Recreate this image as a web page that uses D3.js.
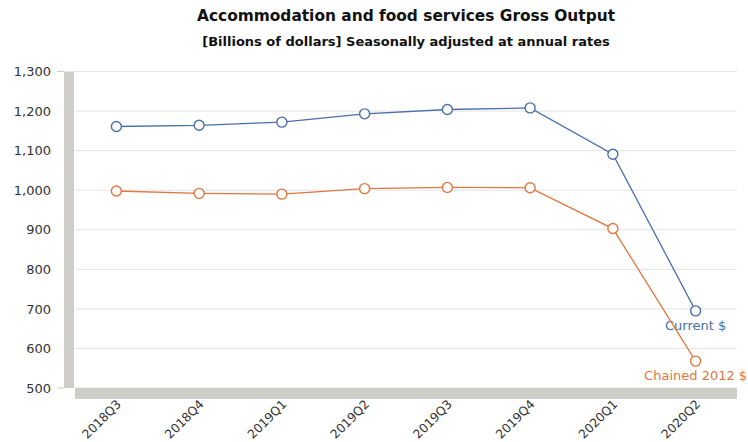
<!DOCTYPE html>
<html>
<head>
<meta charset="utf-8">
<script src="https://cdn.jsdelivr.net/npm/d3@7"></script>
<style>
  html, body { margin: 0; padding: 0; background: #fff; }
  svg { display: block; font-family: "DejaVu Sans", Verdana, sans-serif; }
</style>
</head>
<body>
<svg id="chart" width="748" height="442"></svg>
<script>
// Quarterly gross output, billions of dollars (SAAR)
const quarters = ["2018Q3", "2018Q4", "2019Q1", "2019Q2", "2019Q3", "2019Q4", "2020Q1", "2020Q2"];
const currentDollars = [1161, 1164, 1172, 1193, 1204, 1208, 1091, 695];
const chained2012Dollars = [998, 992, 990, 1004, 1007, 1006, 903, 568];
const yTicks = [500, 600, 700, 800, 900, 1000, 1100, 1200, 1300];

const seriesList = [
  { name: "Current $", values: currentDollars, color: "#4a6fa9" },
  { name: "Chained 2012 $", values: chained2012Dollars, color: "#e2763f" }
];

const svg = d3.select("#chart");
const plot = { left: 75, right: 737, top: 71.5, bottom: 388 };

const x = d3.scalePoint().domain(quarters).range([plot.left, plot.right]).padding(0.5);
const y = d3.scaleLinear().domain([500, 1300]).range([plot.bottom, plot.top]);

// Titles
svg.append("text")
  .attr("x", 406).attr("y", 21)
  .attr("text-anchor", "middle")
  .attr("font-size", 15.4).attr("font-weight", "bold").attr("fill", "#111")
  .text("Accommodation and food services Gross Output");
svg.append("text")
  .attr("x", 406).attr("y", 46)
  .attr("text-anchor", "middle")
  .attr("font-size", 13).attr("font-weight", "bold").attr("fill", "#111")
  .text("[Billions of dollars] Seasonally adjusted at annual rates");

// Horizontal gridlines
svg.append("g")
  .selectAll("line")
  .data(yTicks)
  .join("line")
  .attr("x1", plot.left).attr("x2", plot.right)
  .attr("y1", d => y(d)).attr("y2", d => y(d))
  .attr("stroke", "#e4e4e4").attr("stroke-width", 1);

// 3D-style wall and floor
svg.append("rect")
  .attr("x", 64).attr("y", y(1300))
  .attr("width", 10).attr("height", y(500) - y(1300))
  .attr("fill", "#cfcdc7");
svg.append("rect")
  .attr("x", plot.left).attr("y", y(500))
  .attr("width", plot.right - plot.left).attr("height", 11)
  .attr("fill", "#cfcdc7");
svg.append("g")
  .selectAll("line")
  .data([500, 1300])
  .join("line")
  .attr("x1", 57).attr("x2", 64)
  .attr("y1", d => y(d)).attr("y2", d => y(d))
  .attr("stroke", "#cfcdc7").attr("stroke-width", 1);

// Y axis labels
const yAxis = d3.axisLeft(y)
  .tickValues(yTicks)
  .tickFormat(d3.format(","))
  .tickSize(0)
  .tickPadding(0);
const gy = svg.append("g").attr("transform", "translate(51,0)").call(yAxis);
gy.select(".domain").remove();
gy.selectAll("text")
  .attr("font-size", 13).attr("fill", "#333")
  .attr("font-family", "DejaVu Sans, Verdana, sans-serif");

// X axis labels, rotated
const xAxis = d3.axisBottom(x).tickSize(0).tickPadding(0);
const gx = svg.append("g").attr("transform", `translate(0,${y(500)})`).call(xAxis);
gx.select(".domain").remove();
gx.selectAll("text")
  .attr("font-size", 12.3).attr("fill", "#333")
  .attr("font-family", "DejaVu Sans, Verdana, sans-serif")
  .attr("text-anchor", "end")
  .attr("dy", null)
  .attr("transform", "translate(5,17) rotate(-45)");

// Series lines, markers and end labels
const line = d3.line().x((d, i) => x(quarters[i])).y(d => y(d));

seriesList.forEach(s => {
  svg.append("path")
    .datum(s.values)
    .attr("d", line)
    .attr("fill", "none")
    .attr("stroke", s.color)
    .attr("stroke-width", 1.3);
  svg.append("g")
    .selectAll("circle")
    .data(s.values)
    .join("circle")
    .attr("cx", (d, i) => x(quarters[i]))
    .attr("cy", d => y(d))
    .attr("r", 5)
    .attr("fill", "#fff")
    .attr("stroke", s.color)
    .attr("stroke-width", 1.4);
  const last = s.values.length - 1;
  svg.append("text")
    .attr("x", x(quarters[last]))
    .attr("y", y(s.values[last]) + 19)
    .attr("text-anchor", "middle")
    .attr("font-size", 13)
    .attr("fill", s.color)
    .text(s.name);
});
</script>
</body>
</html>
